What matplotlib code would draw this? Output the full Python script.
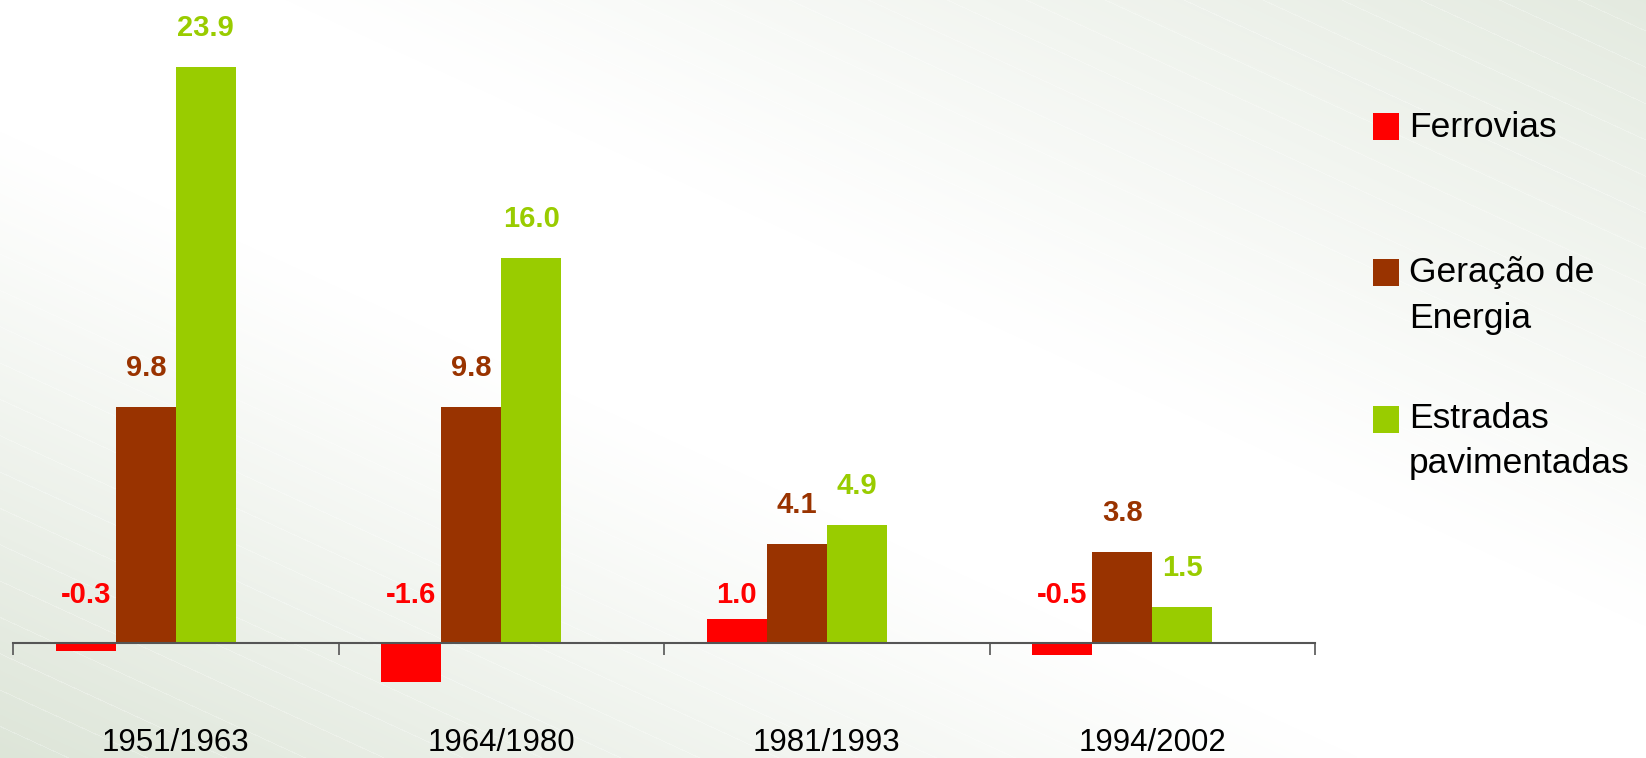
import numpy as np
import matplotlib
matplotlib.use("Agg")
import matplotlib.pyplot as plt
from matplotlib.patches import Rectangle

# ---------------- data ----------------
categories = ["1951/1963", "1964/1980", "1981/1993", "1994/2002"]
series_names = [["Ferrovias"], ["Geração de", "Energia"], ["Estradas", "pavimentadas"]]
ferrovias = [-0.3, -1.6, 1.0, -0.5]
geracao = [9.8, 9.8, 4.1, 3.8]
estradas = [23.9, 16.0, 4.9, 1.5]
series_values = [ferrovias, geracao, estradas]
colors = ["#FF0000", "#993300", "#99CC00"]

plt.rcParams["font.family"] = ["Liberation Sans", "DejaVu Sans"]

W, H = 1646, 758
DPI = 100
fig = plt.figure(figsize=(W / DPI, H / DPI), dpi=DPI)

# ---------------- background gradient ----------------
bg = fig.add_axes([0, 0, 1, 1], zorder=-10)
yy, xx = np.mgrid[0:H, 0:W].astype(float)
diag = np.hypot(W, H)
d = (xx * H - yy * W) / diag          # signed distance from TL-BR diagonal
dmax = W * H / diag
t = np.clip((np.abs(d) - 120) / (dmax - 120), 0, 1)
t = t ** 1.1
scale = np.where(d < 0, 1.0, 0.8)
tint = t * scale
diff = np.array([34, 26, 39]) / 255.0
img = 1.0 - tint[..., None] * diff[None, None, :]
phase = np.mod(d, 33.0)
line_mask = (phase < 1.0).astype(float) * tint * 0.25
img = img + line_mask[..., None] * diff[None, None, :]
img = np.clip(img, 0, 1)
bg.imshow(img, aspect="auto", extent=[0, 1, 0, 1], origin="upper", interpolation="bilinear")
bg.set_axis_off()

# ---------------- main axes ----------------
px_unit = 24.1
zero_px = 643.3
ylo, yhi = -2.5, 25.5
ax_top_px = zero_px - yhi * px_unit
ax_bot_px = zero_px - ylo * px_unit
left_px, right_px = 13, 1315
ax = fig.add_axes([left_px / W, (H - ax_bot_px) / H,
                   (right_px - left_px) / W, (ax_bot_px - ax_top_px) / H])
ax.patch.set_alpha(0)
ax.set_xlim(-0.5, len(categories) - 0.5)
ax.set_ylim(ylo, yhi)

w = 60 / 325.5
x = np.arange(len(categories))
for k, (vals, col) in enumerate(zip(series_values, colors)):
    xpos = x + (k - 1.5) * w
    ax.bar(xpos, vals, width=w, color=col, edgecolor="none", zorder=2)
    for xi, v in zip(xpos, vals):
        if k == 0:
            anchor, off = (xi, 0), 48
        else:
            anchor, off = (xi, v), 39
        ax.annotate(f"{v:.1f}", anchor, xytext=(0, off * 72 / DPI),
                    textcoords="offset points", ha="center", va="center",
                    color=col, fontsize=21, fontweight="bold")

for s in ["left", "right", "top"]:
    ax.spines[s].set_visible(False)
ax.spines["bottom"].set_position(("data", 0))
ax.spines["bottom"].set_color("#555555")
ax.spines["bottom"].set_linewidth(1.5)
ax.spines["bottom"].set_zorder(3)
ax.set_yticks([])
ax.set_xticks(np.arange(-0.5, len(categories), 1.0))
ax.set_xticklabels([])
ax.tick_params(axis="x", which="major", direction="out", length=12 * 72 / DPI,
               width=1.2, color="#555555")
ax.set_xticks(x, categories, minor=True)
ax.tick_params(axis="x", which="minor", length=0, pad=85 * 72 / DPI,
               labelsize=22.5, labelcolor="black")

# ---------------- legend ----------------
sq_x0, sq_x1 = 1373, 1399
text_x = 1409
legend_rows = [
    (113, [137]),
    (259, [282, 328]),
    (406, [428, 473]),
]
for (sq_top, baselines), lines, col in zip(legend_rows, series_names, colors):
    fig.patches.append(Rectangle((sq_x0 / W, 1 - (sq_top + 27) / H),
                                 (sq_x1 - sq_x0) / W, 27 / H,
                                 transform=fig.transFigure, facecolor=col,
                                 edgecolor="none"))
    for bl, line in zip(baselines, lines):
        fig.text(text_x / W, 1 - bl / H, line, ha="left", va="baseline",
                 fontsize=25.5, color="black")

fig.savefig("out.png", dpi=DPI)
